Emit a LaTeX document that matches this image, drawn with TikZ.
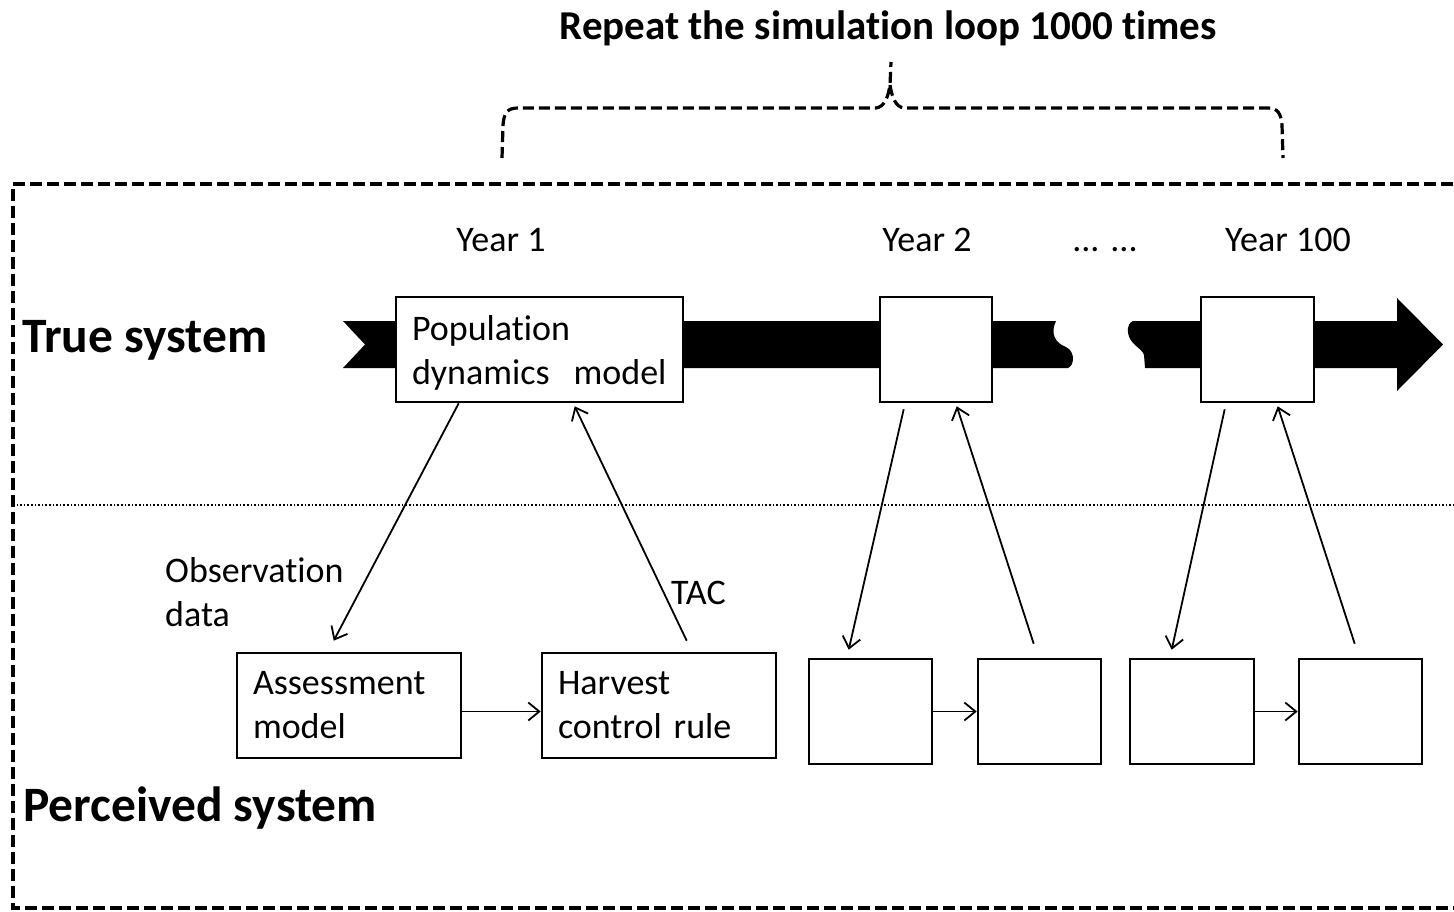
\documentclass[tikz,border=0pt]{standalone}
\usepackage{fontspec}
\setmainfont{Carlito}[Ligatures=NoCommon]
\usetikzlibrary{arrows.meta}
\begin{document}
\begin{tikzpicture}[x=1pt,y=-1pt,
  txt/.style={font=\fontsize{36}{44}\selectfont, inner sep=0pt},
  big/.style={font=\fontsize{49.5}{56}\selectfont\bfseries, inner sep=0pt},
  box/.style={draw, line width=2.6pt, fill=white, minimum height=105pt,
    font=\fontsize{36}{44}\selectfont, align=left, inner xsep=16pt, inner ysep=0pt},
  ebox/.style={draw, line width=2.6pt, fill=white, minimum height=105pt, inner sep=0pt},
  conn/.style={line width=1.8pt, -{Straight Barb[length=11pt,width=18pt,line width=1.8pt]}},
  dashframe/.style={line width=3.5pt, dash pattern=on 12pt off 5pt}
]
\useasboundingbox (0,0) rectangle (1454,911);

% title
\node[font=\fontsize{41}{48}\selectfont\bfseries, inner sep=0pt] (title) at (888,28) {Repeat the simulation loop 1000 times};

% brace
\draw[dashframe, line width=3.2pt, dash pattern=on 11pt off 5pt]
  (502,158) -- (503,125) .. controls (504,112) and (508,108) .. (518,108) -- (876,108)
  .. controls (884,107) and (888,98) .. (890,85) -- (891,62)
  (890,85) .. controls (892,98) and (896,107) .. (904,108) -- (1268,108)
  .. controls (1278,108) and (1281,114) .. (1282,125) -- (1283,158);

% outer frame
\draw[dashframe] (1470,184) -- (13,184) -- (13,908) -- (1470,908);

% dotted separator
\draw[line width=1.6pt, dotted] (13,505) -- (1454,505);

% band
\fill[black] (343,321) -- (1056,321) .. controls (1050,333) and (1055,343) .. (1066,347)
  .. controls (1076,352) and (1074,366) .. (1068,368) -- (343,368) -- (365,344.5) -- cycle;
\fill[black] (1145,368) -- (1144,355) .. controls (1142,348) and (1130,345) .. (1128,333)
  .. controls (1127,326) and (1130,322) .. (1133,321) -- (1397,321) -- (1397,298)
  -- (1443,344.5) -- (1397,391) -- (1397,368) -- cycle;

% labels
\node[big, anchor=west] (true) at (22,340) {True system};
\node[big, anchor=west] (perc) at (23,808) {Perceived system};
\node[txt] (y1) at (501,240) {Year 1};
\node[txt] (y2) at (927,240) {Year 2};
\node[txt] (dots) at (1105,240) {\vphantom{Year}... ...};
\node[txt] (y100) at (1288,240) {Year 100};

% boxes
\node[box, minimum width=287pt, text width=255pt] (pop) at (539.5,349.5) {\rule{0pt}{32pt}Population\\dynamics\ \ model};
\node[ebox, minimum width=112pt] (t2) at (936,349.5) {};
\node[ebox, minimum width=113pt] (t100) at (1257.5,349.5) {};

\node[box, minimum width=224pt, text width=192pt] (asm) at (349,705.5) {Assessment\\model};
\node[box, minimum width=234pt, text width=202pt] (hcr) at (659,705.5) {Harvest\\control rule};
\node[ebox, minimum width=123pt] (b1) at (870.5,711.5) {};
\node[ebox, minimum width=123pt] (b2) at (1039.5,711.5) {};
\node[ebox, minimum width=124pt] (b3) at (1192,711.5) {};
\node[ebox, minimum width=123pt] (b4) at (1360.5,711.5) {};

% arrows
\draw[conn] ([xshift=64pt]pop.south west) -- ([xshift=98pt,yshift=11pt]asm.north west);
\draw[conn] ([xshift=146pt,yshift=11pt]hcr.north west) -- ([xshift=180pt,yshift=-3pt]pop.south west);
\draw[conn] ([yshift=-6pt]asm.east) -- ([yshift=-6pt]hcr.west);

\draw[conn] ([xshift=25pt,yshift=-6pt]t2.south west) -- ([xshift=41pt,yshift=8pt]b1.north west);
\draw[conn] ([xshift=57pt,yshift=14pt]b2.north west) -- ([xshift=78pt,yshift=-3pt]t2.south west);
\draw[conn] (b1.east) -- (b2.west);

\draw[conn] ([xshift=25pt,yshift=-6pt]t100.south west) -- ([xshift=43pt,yshift=8pt]b3.north west);
\draw[conn] ([xshift=57pt,yshift=14pt]b4.north west) -- ([xshift=78pt,yshift=-3pt]t100.south west);
\draw[conn] (b3.east) -- (b4.west);

% arrow labels
\node[txt, anchor=west, align=left] (obs) at (165,592) {Observation\\data};
\node[txt, anchor=west] (tac) at (671,593) {TAC};
\end{tikzpicture}
\end{document}
